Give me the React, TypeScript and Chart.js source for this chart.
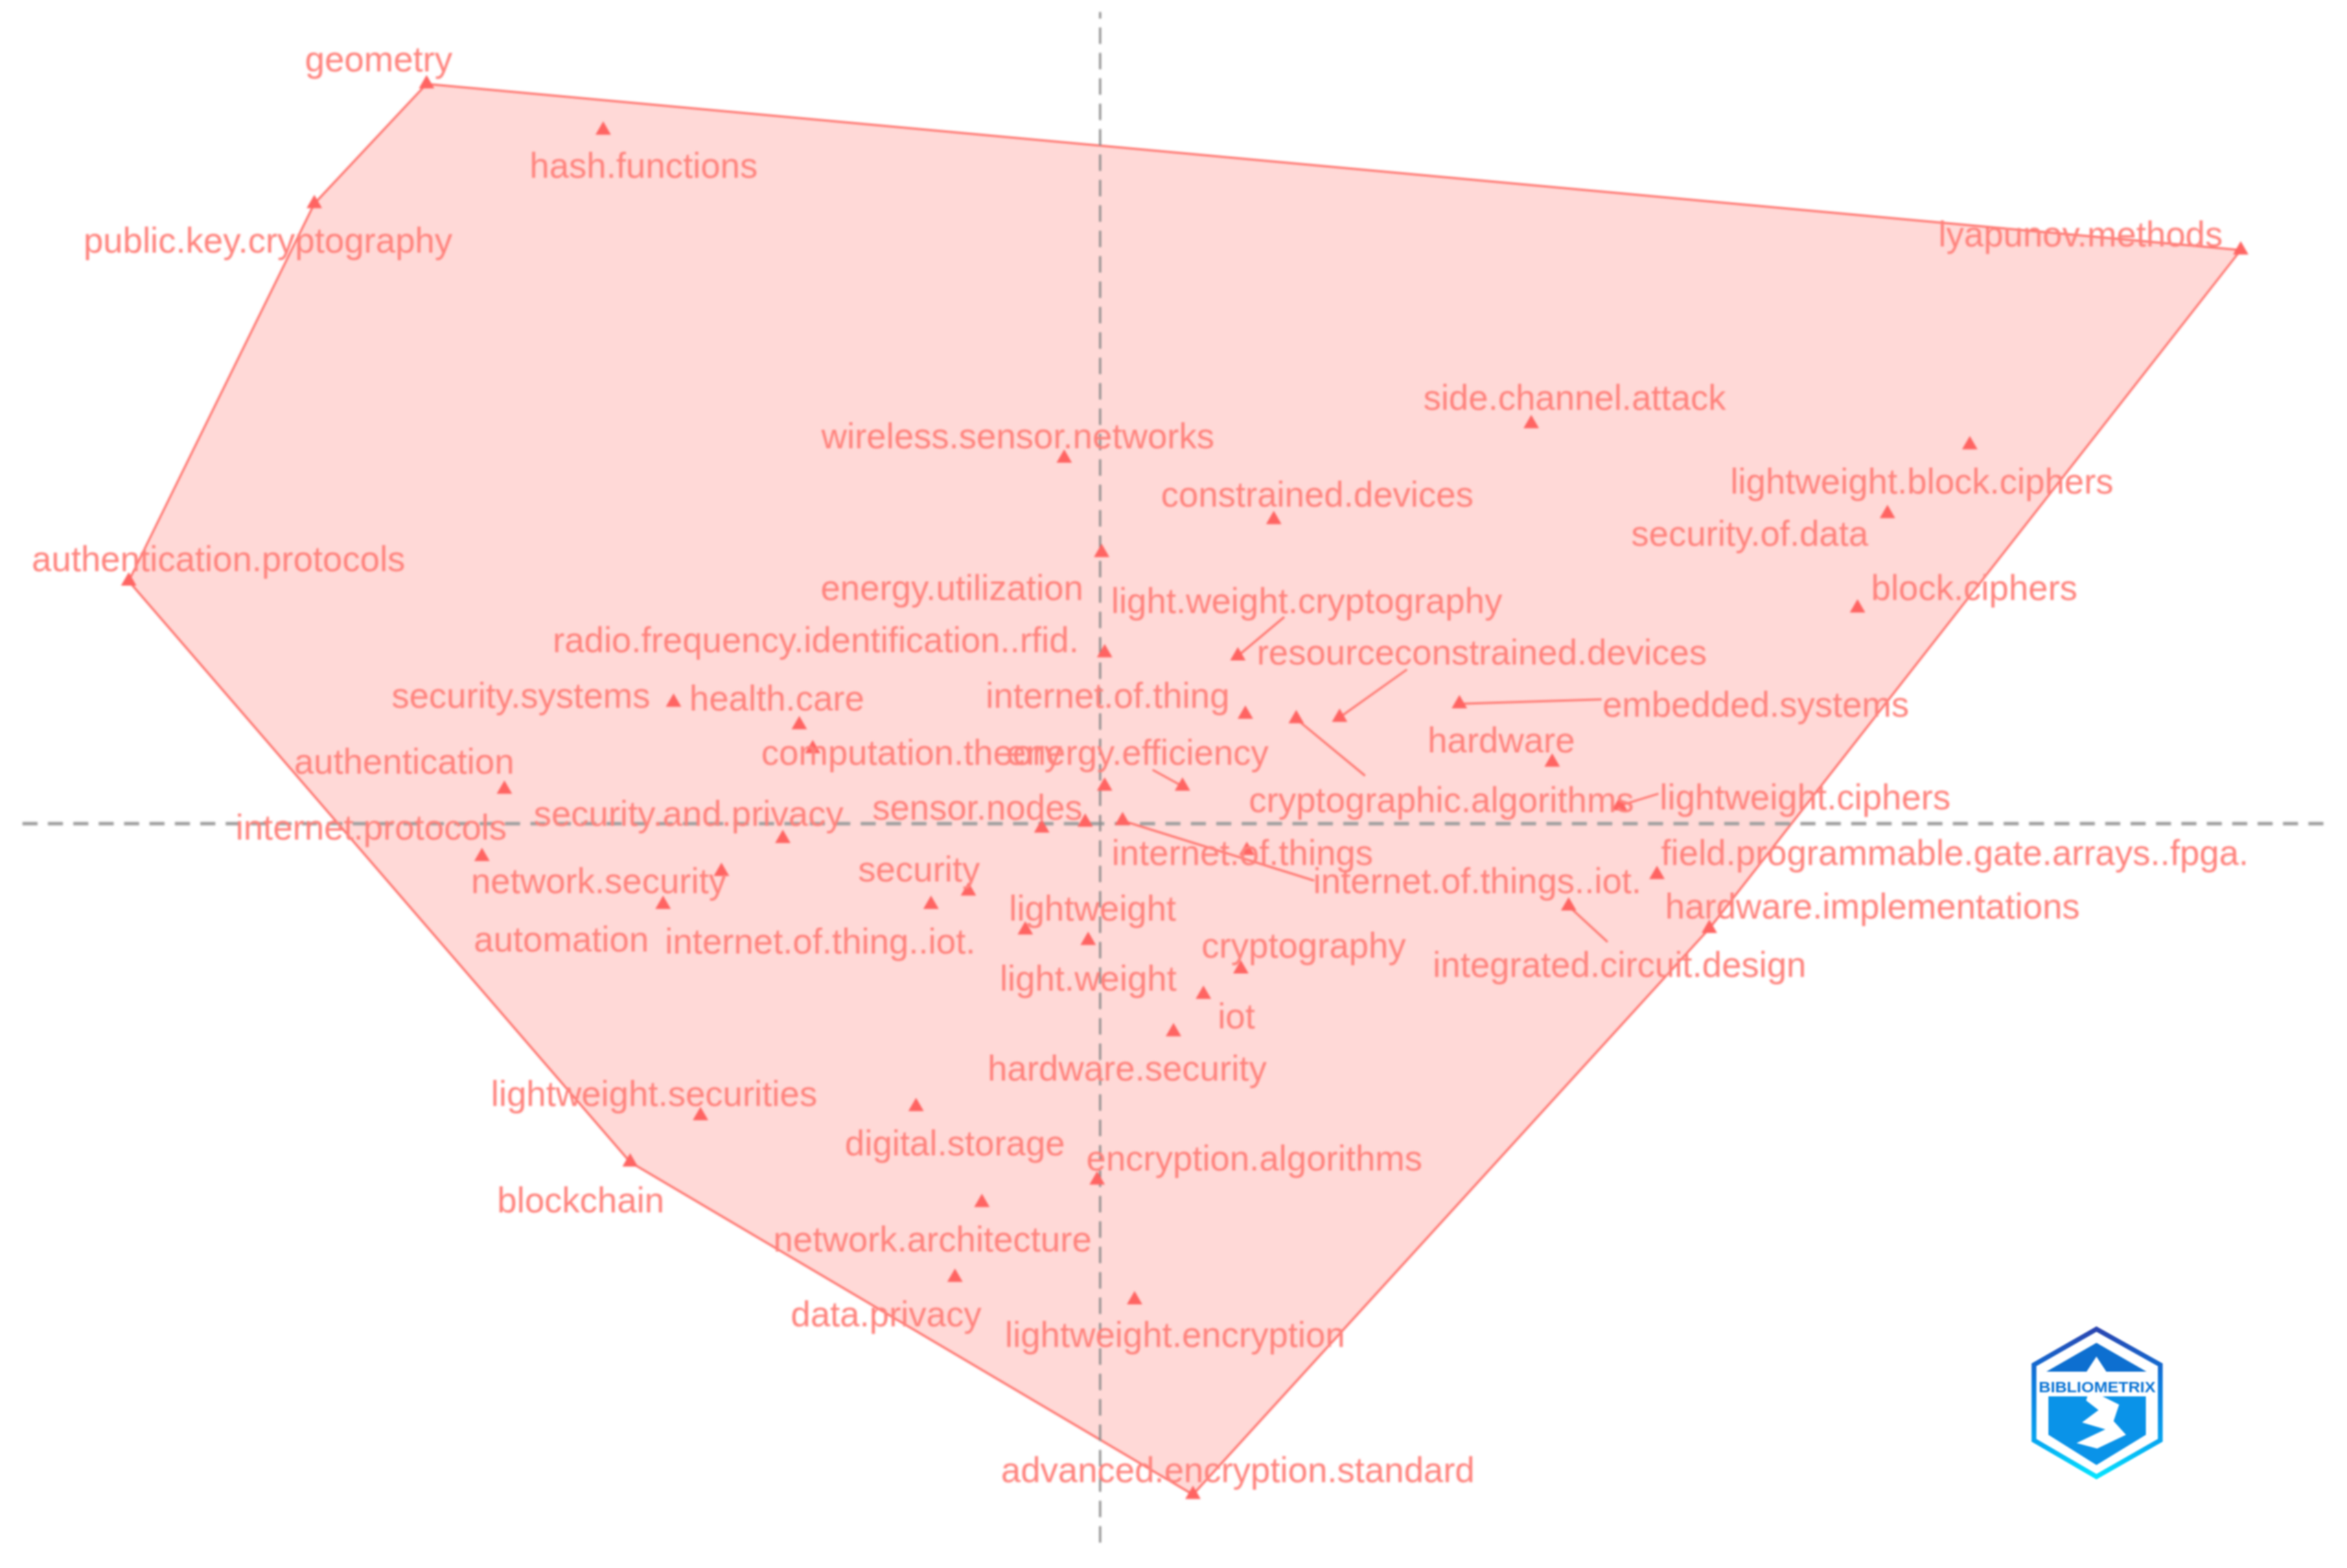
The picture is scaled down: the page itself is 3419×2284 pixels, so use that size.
import React, { useEffect, useRef } from "react";
import { Chart, registerables } from "chart.js";

Chart.register(...registerables);

const keywords = [
  "geometry", "hash.functions", "public.key.cryptography", "authentication.protocols", "lyapunov.methods",
  "side.channel.attack", "wireless.sensor.networks", "constrained.devices", "lightweight.block.ciphers", "security.of.data",
  "block.ciphers", "energy.utilization", "radio.frequency.identification..rfid.", "light.weight.cryptography", "resourceconstrained.devices",
  "security.systems", "health.care", "computation.theory", "internet.of.thing", "embedded.systems",
  "hardware", "cryptographic.algorithms", "energy.efficiency", "lightweight.ciphers", "authentication",
  "security.and.privacy", "sensor.nodes", "internet.protocols", "network.security", "automation",
  "security", "internet.of.thing..iot.", "lightweight", "light.weight", "cryptography",
  "iot", "hardware.security", "lightweight.securities", "digital.storage", "blockchain",
  "encryption.algorithms", "network.architecture", "data.privacy", "lightweight.encryption", "advanced.encryption.standard",
  "internet.of.things..iot.", "internet.of.things", "field.programmable.gate.arrays..fpga.", "hardware.implementations", "integrated.circuit.design",
];
const dim1 = [
  -4.5, -3.32, -5.25, -6.49, 7.62,
  2.88, -0.24, 1.16, 5.81, 5.26,
  5.06, 0.01, 0.03, 0.92, 1.6,
  -2.85, -2.01, -1.92, 0.97, 2.4,
  3.02, 1.31, 0.55, 3.47, -3.98,
  -2.12, -0.39, -4.13, -2.53, -2.92,
  -0.88, -1.13, -0.5, -0.08, 0.94,
  0.69, 0.49, -2.67, -1.23, -3.14,
  -0.02, -0.79, -0.97, 0.23, 0.62,
  0.15, 0.98, 3.72, 4.07, 3.13,
];
const dim2 = [
  4.94, 4.63, 4.14, 1.62, 3.83,
  2.67, 2.44, 2.03, 2.53, 2.07,
  1.44, 1.81, 1.14, 1.12, 0.71,
  0.81, 0.66, 0.5, 0.73, 0.8,
  0.41, 0.7, 0.25, 0.12, 0.23,
  -0.1, -0.03, -0.22, -0.32, -0.54,
  -0.45, -0.54, -0.71, -0.78, -0.97,
  -1.14, -1.39, -1.95, -1.89, -2.26,
  -2.38, -2.53, -3.03, -3.18, -4.48,
  0.02, -0.18, -0.34, -0.7, -0.55,
];
const labelDim1 = [
  -4.82, -3.05, -5.56, -5.89, 6.55,
  3.17, -0.55, 1.45, 5.49, 4.34,
  5.84, -0.99, -1.9, 1.38, 2.55,
  -3.87, -2.16, -1.26, 0.05, 4.38,
  2.68, 2.28, 0.25, 4.71, -4.65,
  -2.75, -0.82, -4.87, -3.35, -3.6,
  -1.21, -1.87, -0.05, -0.08, 1.36,
  0.91, 0.18, -2.98, -0.97, -3.47,
  1.03, -1.12, -1.43, 0.5, 0.92,
  2.52, 0.95, 5.71, 5.16, 3.47,
];
const labelDim2 = [
  5.09, 4.38, 3.88, 1.75, 3.92,
  2.83, 2.57, 2.18, 2.27, 1.92,
  1.56, 1.56, 1.21, 1.47, 1.13,
  0.84, 0.82, 0.46, 0.84, 0.78,
  0.54, 0.14, 0.46, 0.16, 0.4,
  0.05, 0.09, -0.04, -0.4, -0.79,
  -0.32, -0.8, -0.58, -1.05, -0.83,
  -1.3, -1.65, -1.82, -2.15, -2.53,
  -2.25, -2.79, -3.29, -3.43, -4.33,
  -0.4, -0.21, -0.21, -0.57, -0.96,
];

// Two marks in the picture carry no readable label of their own.
const unlabelledDim1 = [-0.1, 0.03];
const unlabelledDim2 = [0.01, 0.25];

// Repel segments: keyword, and where the segment leaves its label.
const leaderKeywords = [
  "light.weight.cryptography", "resourceconstrained.devices", "embedded.systems", "cryptographic.algorithms",
  "energy.efficiency", "lightweight.ciphers", "internet.of.things..iot.", "integrated.circuit.design",
];
const leaderDim1 = [1.23, 2.05, 3.35, 1.77, 0.35, 3.73, 1.43, 3.39];
const leaderDim2 = [1.38, 1.03, 0.83, 0.32, 0.36, 0.2, -0.38, -0.79];

const hullKeywords = [
  "geometry", "lyapunov.methods", "hardware.implementations", "advanced.encryption.standard",
  "blockchain", "authentication.protocols", "public.key.cryptography", "geometry",
];

const axisDim1Range = [-7.2, 8.2];
const axisDim2Range = [-4.8, 5.42];

const xBounds = { min: -7.35, max: 8.33 };
const yBounds = { min: -4.97, max: 5.5 };

const at = (name: string) => {
  const i = keywords.indexOf(name);
  return { x: dim1[i], y: dim2[i] };
};

const labelPlugin = {
  id: "keywordLabels",
  afterDatasetsDraw(chart: any) {
    const { ctx, scales } = chart;
    ctx.save();
    ctx.font = '51.5px "Liberation Sans"';
    ctx.fillStyle = "rgb(255,130,124)";
    ctx.textAlign = "center";
    ctx.textBaseline = "middle";
    keywords.forEach((k, i) => {
      ctx.fillText(k, scales.x.getPixelForValue(labelDim1[i]), scales.y.getPixelForValue(labelDim2[i]));
    });
    ctx.restore();
  },
};

function Logo() {
  return (
    <svg
      width={200}
      height={230}
      viewBox="0 0 200 230"
      style={{ position: "absolute", left: 2955, top: 1930, filter: "blur(1.2px)" }}
    >
      <defs>
        <linearGradient id="logoGrad" x1="0" y1="0" x2="0" y2="1">
          <stop offset="0" stopColor="#2a45b0" />
          <stop offset="0.35" stopColor="#0a78dc" />
          <stop offset="0.75" stopColor="#06a4f0" />
          <stop offset="1" stopColor="#05e4ff" />
        </linearGradient>
      </defs>
      <path d="M99 6 L192 58 L192 168 L99 221 L8 168 L8 58 Z" fill="none" stroke="url(#logoGrad)" strokeWidth={7} />
      <path d="M99 26 L172 68 L26 68 Z" fill="#0d6fd0" />
      <path d="M29 104 L171 104 L171 160 L99 204 L29 160 Z" fill="#0a93e8" />
      <rect x="12" y="76" width="176" height="28" fill="#ffffff" />
      <path d="M99 46 L116 72 L108 104 L132 116 L124 140 L142 160 L100 180 L70 172 L112 152 L78 142 L102 124 L84 110 L90 90 L82 72 Z" fill="#ffffff" />
      <text x="100" y="98" textAnchor="middle" fontFamily="Liberation Sans" fontWeight="700" fontSize="22" textLength={170} lengthAdjust="spacingAndGlyphs" fill="#0b74d4">
        BIBLIOMETRIX
      </text>
    </svg>
  );
}

export default function App() {
  const ref = useRef<HTMLCanvasElement>(null);
  useEffect(() => {
    const leaderData: any[] = [];
    leaderKeywords.forEach((k, i) => {
      leaderData.push({ x: leaderDim1[i], y: leaderDim2[i] }, at(k), { x: NaN, y: NaN });
    });
    const chart = new Chart(ref.current!, {
      type: "scatter",
      data: {
        datasets: [
          {
            label: "cluster",
            data: hullKeywords.map(at),
            showLine: true,
            fill: "shape",
            backgroundColor: "rgba(255,120,112,0.28)",
            borderColor: "rgb(255,110,104)",
            borderWidth: 3,
            pointRadius: 0,
            order: 5,
          },
          {
            label: "dim1 axis",
            data: axisDim1Range.map((x) => ({ x, y: 0 })),
            showLine: true,
            borderColor: "#a0a0a0",
            borderWidth: 5,
            borderDash: [22, 15],
            pointRadius: 0,
            order: 4,
          },
          {
            label: "dim2 axis",
            data: axisDim2Range.map((y) => ({ x: 0, y })),
            showLine: true,
            borderColor: "#8a8a8a",
            borderWidth: 3,
            borderDash: [24, 13],
            pointRadius: 0,
            order: 3,
          },
          {
            label: "segments",
            data: leaderData,
            showLine: true,
            spanGaps: false,
            borderColor: "rgb(255,115,108)",
            borderWidth: 3,
            pointRadius: 0,
            order: 2,
          },
          {
            label: "keywords",
            data: [
              ...keywords.map((_, i) => ({ x: dim1[i], y: dim2[i] })),
              ...unlabelledDim1.map((x, i) => ({ x, y: unlabelledDim2[i] })),
            ],
            pointStyle: "triangle",
            pointRadius: 13,
            pointBackgroundColor: "rgb(255,100,98)",
            pointBorderWidth: 0,
            order: 1,
          },
        ],
      },
      options: {
        animation: false,
        responsive: false,
        layout: { padding: 0, autoPadding: false },
        plugins: { legend: { display: false }, tooltip: { enabled: false } },
        scales: {
          x: { type: "linear", display: false, ...xBounds },
          y: { type: "linear", display: false, ...yBounds },
        },
      },
      plugins: [labelPlugin],
    });
    return () => chart.destroy();
  }, []);
  return (
    <div style={{ position: "absolute", left: 0, top: 0, width: 3419, height: 2284, background: "#fff", overflow: "hidden" }}>
      <canvas ref={ref} width={3419} height={2284} style={{ display: "block", filter: "blur(1.5px)" }} />
      <Logo />
    </div>
  );
}
